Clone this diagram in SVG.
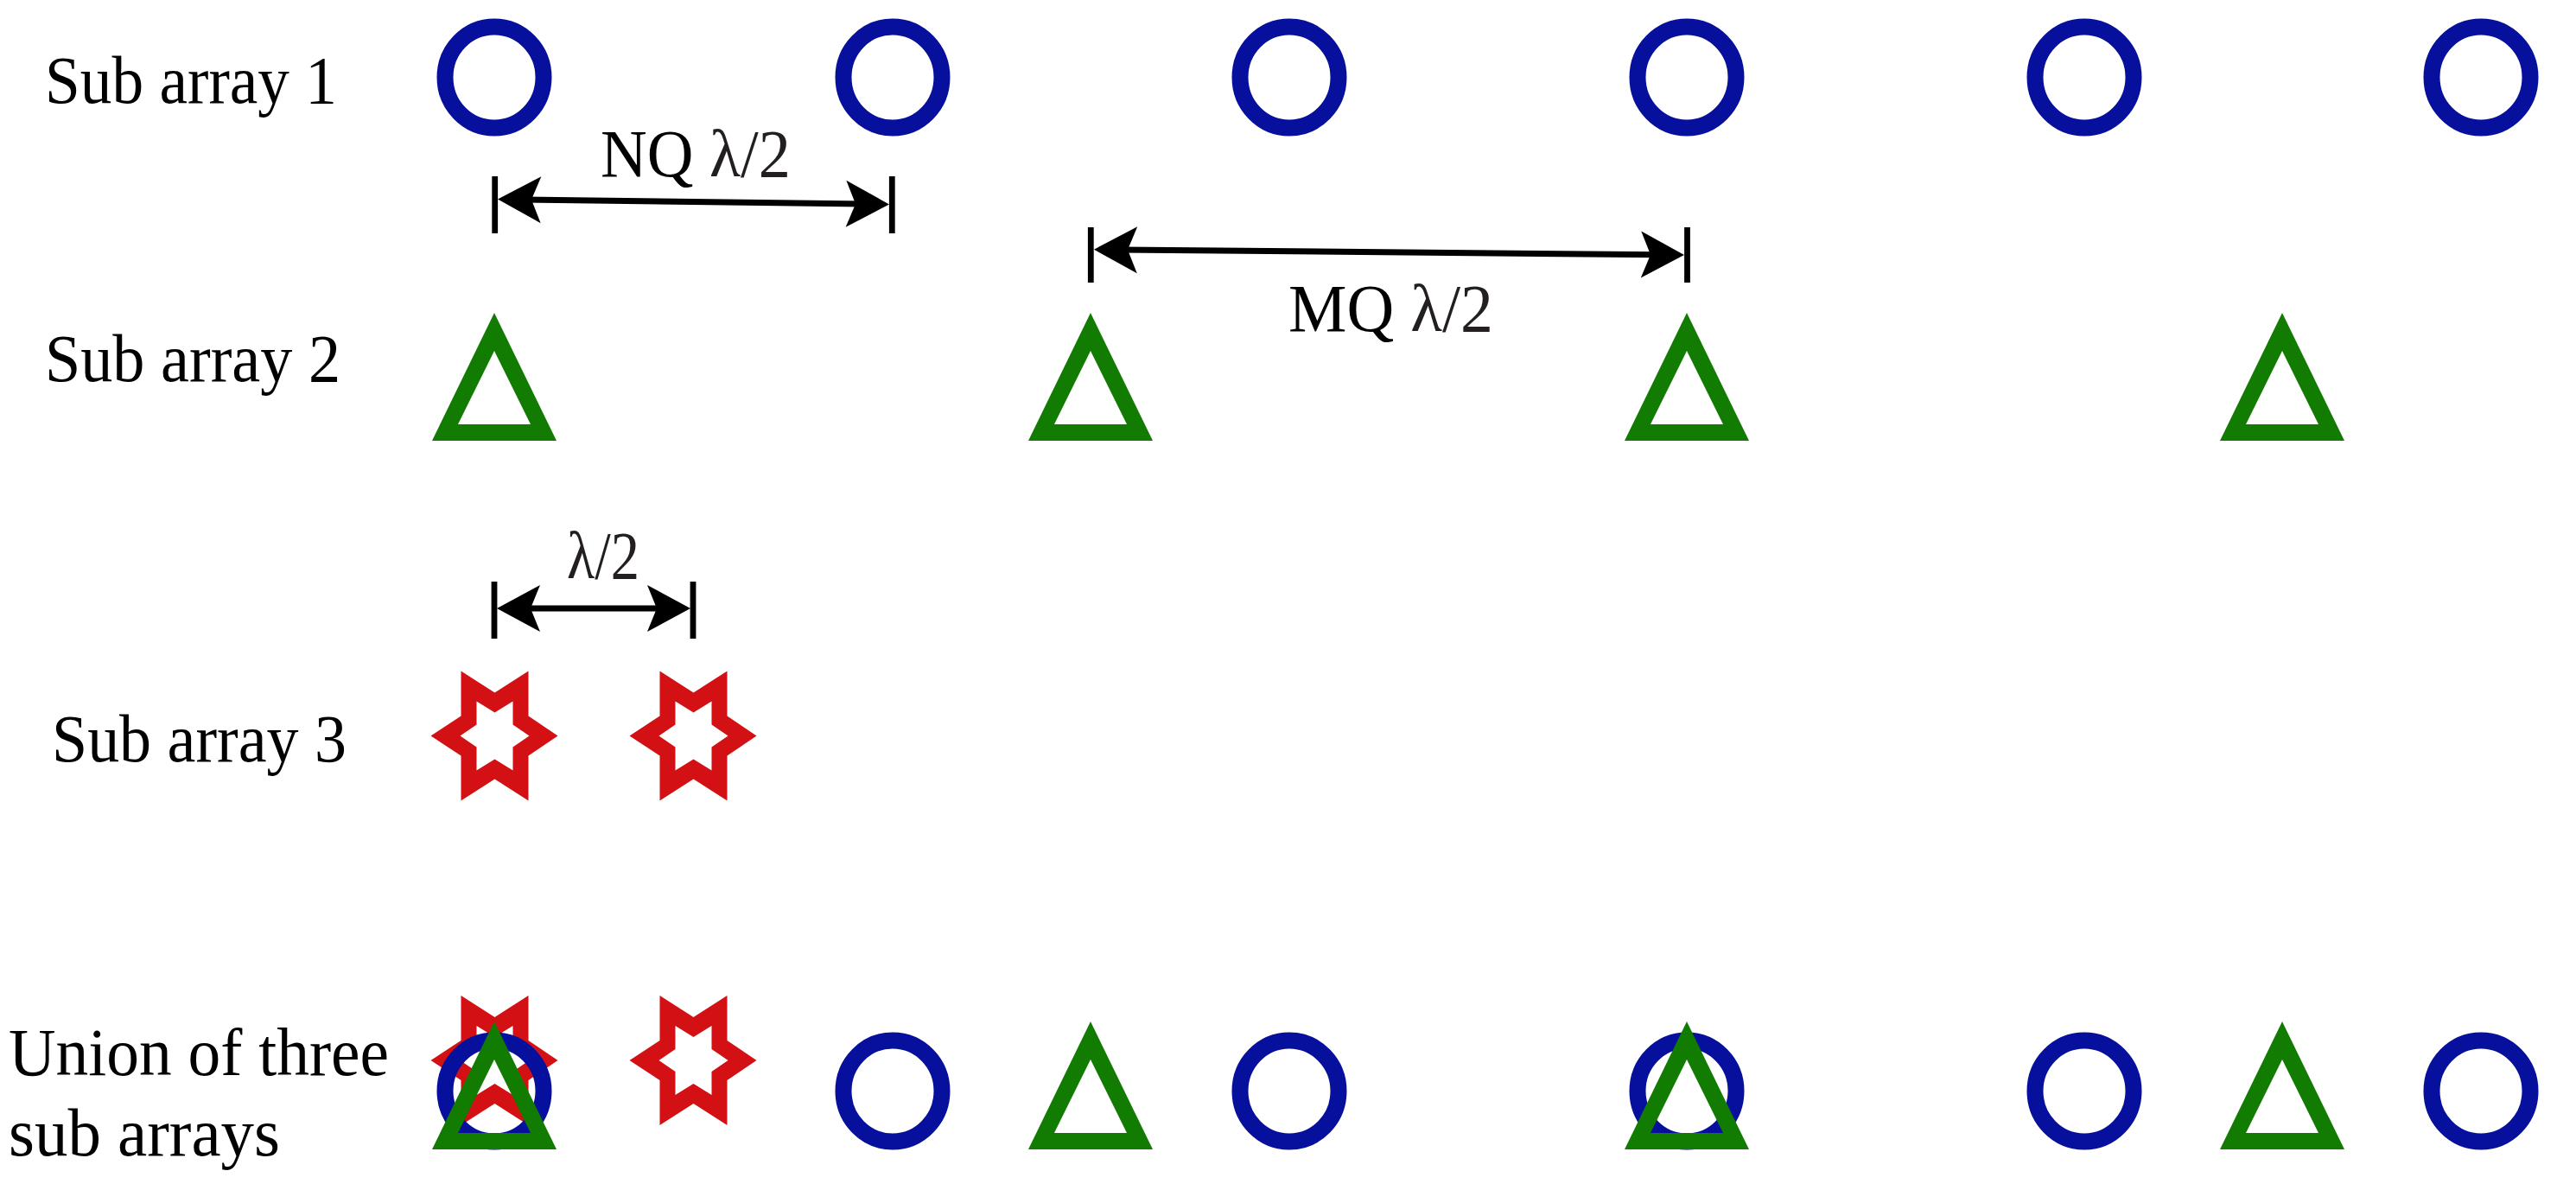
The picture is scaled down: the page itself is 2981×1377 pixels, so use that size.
<svg xmlns="http://www.w3.org/2000/svg" width="2981" height="1377" viewBox="0 0 2981 1377">
<style>
  .lbl { font-family: "Liberation Serif", "Times New Roman", serif; font-size: 79px; fill: #000; }
  .gr { fill: #231f20; }
  .circ { fill: none; stroke: #06109c; stroke-width: 19; }
  .tri { fill: #127c02; fill-rule: evenodd; }
  .star { fill: #d31014; fill-rule: evenodd; }
  .dim { stroke: #000; stroke-width: 7; fill: none; }
  .tick { stroke: #000; stroke-width: 6.8; fill: none; }
  .head { fill: #000; }
</style>
<defs>
  <path id="triShape" d="M0,0 L72,148 L-72,148 Z M0,44 L-42,129 L42,129 Z"/>
  <path id="starShape" d="M-39,-75 L0,-50 L39,-75 L39,-23 L73,0 L39,23 L39,75 L0,50 L-39,75 L-39,23 L-74,0 L-39,-23 Z M-21,-40 L0,-27 L21,-40 L21,-13 L40,0 L21,13 L21,40 L0,27 L-21,40 L-21,13 L-40,0 L-21,-13 Z"/>
  <path id="arrowHead" d="M0,0 L-50,-27 L-39,0 L-50,27 Z"/>
</defs>
<rect width="2981" height="1377" fill="#fff"/>

<g id="labels">
  <text id="label-sub1" class="lbl" x="52" y="119" textLength="338" lengthAdjust="spacingAndGlyphs">Sub array 1</text>
  <text id="label-sub2" class="lbl" x="52" y="441" textLength="342" lengthAdjust="spacingAndGlyphs">Sub array 2</text>
  <text id="label-sub3" class="lbl" x="60" y="881" textLength="341" lengthAdjust="spacingAndGlyphs">Sub array 3</text>
  <text id="label-union" class="lbl" x="10" y="1244" textLength="440" lengthAdjust="spacingAndGlyphs">Union of three</text>
  <text id="label-union2" class="lbl" x="10" y="1337" textLength="314" lengthAdjust="spacingAndGlyphs">sub arrays</text>
</g>

<g id="subarray1">
  <ellipse id="s1-c1" class="circ" cx="572" cy="89.5" rx="57" ry="58.5"/>
  <ellipse id="s1-c2" class="circ" cx="1033" cy="89.5" rx="57" ry="58.5"/>
  <ellipse id="s1-c3" class="circ" cx="1492" cy="89.5" rx="57" ry="58.5"/>
  <ellipse id="s1-c4" class="circ" cx="1952" cy="89.5" rx="57" ry="58.5"/>
  <ellipse id="s1-c5" class="circ" cx="2412" cy="89.5" rx="57" ry="58.5"/>
  <ellipse id="s1-c6" class="circ" cx="2871" cy="89.5" rx="57" ry="58.5"/>
</g>

<g id="subarray2">
  <use id="s2-t1" class="tri" href="#triShape" x="572" y="362"/>
  <use id="s2-t2" class="tri" href="#triShape" x="1262" y="362"/>
  <use id="s2-t3" class="tri" href="#triShape" x="1952" y="362"/>
  <use id="s2-t4" class="tri" href="#triShape" x="2641" y="362"/>
</g>

<g id="subarray3">
  <use id="s3-s1" class="star" href="#starShape" x="572.5" y="851.5"/>
  <use id="s3-s2" class="star" href="#starShape" x="802.5" y="851.5"/>
</g>

<g id="union">
  <use id="u-s1" class="star" href="#starShape" x="572.5" y="1227"/>
  <use id="u-s2" class="star" href="#starShape" x="802.5" y="1227"/>
  <ellipse id="u-c1" class="circ" cx="572" cy="1262.5" rx="57" ry="58.5"/>
  <ellipse id="u-c2" class="circ" cx="1033" cy="1262.5" rx="57" ry="58.5"/>
  <ellipse id="u-c3" class="circ" cx="1492" cy="1262.5" rx="57" ry="58.5"/>
  <ellipse id="u-c4" class="circ" cx="1952" cy="1262.5" rx="57" ry="58.5"/>
  <ellipse id="u-c5" class="circ" cx="2412" cy="1262.5" rx="57" ry="58.5"/>
  <ellipse id="u-c6" class="circ" cx="2871" cy="1262.5" rx="57" ry="58.5"/>
  <use id="u-t1" class="tri" href="#triShape" x="572" y="1182"/>
  <use id="u-t2" class="tri" href="#triShape" x="1262" y="1182"/>
  <use id="u-t3" class="tri" href="#triShape" x="1952" y="1182"/>
  <use id="u-t4" class="tri" href="#triShape" x="2641" y="1182"/>
</g>

<g id="connectors">
  <g id="dim-nq">
    <line class="tick" x1="572.7" y1="204" x2="572.7" y2="270"/>
    <line class="tick" x1="1032.3" y1="204" x2="1032.3" y2="270"/>
    <line class="dim" x1="606" y1="230.9" x2="999" y2="236.1"/>
    <use class="head" href="#arrowHead" transform="translate(576 230.5) rotate(180.759)"/>
    <use class="head" href="#arrowHead" transform="translate(1029 236.5) rotate(0.759)"/>
    <text class="lbl" x="695" y="204" textLength="220" lengthAdjust="spacingAndGlyphs">NQ <tspan class="gr">λ/2</tspan></text>
  </g>
  <g id="dim-mq">
    <line class="tick" x1="1262.3" y1="263" x2="1262.3" y2="327"/>
    <line class="tick" x1="1952.5" y1="263" x2="1952.5" y2="327"/>
    <line class="dim" x1="1296" y1="288.98" x2="1919" y2="294.72"/>
    <use class="head" href="#arrowHead" transform="translate(1266 288.7) rotate(180.528)"/>
    <use class="head" href="#arrowHead" transform="translate(1949 295) rotate(0.528)"/>
    <text class="lbl" x="1491" y="383" textLength="237" lengthAdjust="spacingAndGlyphs">MQ <tspan class="gr">λ/2</tspan></text>
  </g>
  <g id="dim-half">
    <line class="tick" x1="572" y1="673" x2="572" y2="739"/>
    <line class="tick" x1="802" y1="673" x2="802" y2="739"/>
    <line class="dim" x1="605" y1="704" x2="769" y2="704"/>
    <use class="head" href="#arrowHead" transform="translate(575 704) rotate(180)"/>
    <use class="head" href="#arrowHead" transform="translate(799 704)"/>
    <text class="lbl gr" x="656" y="669" textLength="84" lengthAdjust="spacingAndGlyphs">λ/2</text>
  </g>
</g>
</svg>
